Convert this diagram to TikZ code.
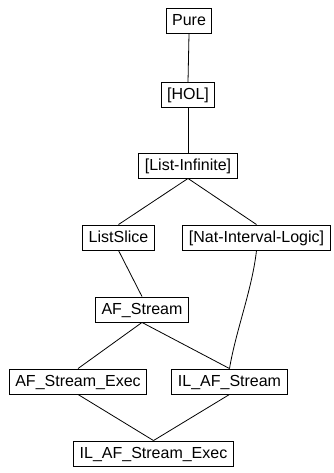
\documentclass[tikz,border=0pt]{standalone}
\usepackage{fontspec}
\setmainfont{Liberation Sans}
\begin{document}
\begin{tikzpicture}[x=1pt,y=-1pt,
  box/.style={draw=black,line width=0.9pt,font=\fontsize{16}{18}\selectfont,inner xsep=6pt,inner ysep=0pt,minimum height=25pt,text height=12pt,text depth=3pt},
  edge/.style={draw=black,line width=0.8pt}]
\useasboundingbox (0,0) rectangle (333,473);
\node[box] (pure) at (189,21) {Pure};
\node[box] (hol) at (188,95) {[HOL]};
\node[box] (li) at (188,165.5) {[List-Infinite]};
\node[box] (ls) at (118.5,237.5) {ListSlice};
\node[box] (nat) at (256.5,237.5) {[Nat-Interval-Logic]};
\node[box] (afs) at (142,309.5) {AF\_Stream};
\node[box] (afse) at (78,381.5) {AF\_Stream\_Exec};
\node[box] (ilafs) at (229.5,381.5) {IL\_AF\_Stream};
\node[box] (ilafse) at (153.5,453.5) {IL\_AF\_Stream\_Exec};
\draw[edge] (pure.south) -- (hol.north);
\draw[edge] (hol.south) -- (li.north);
\draw[edge] (li.south) -- (ls.north);
\draw[edge] (li.south) -- (nat.north);
\draw[edge] (ls.south) -- (afs.north);
\draw[edge] (nat.south) .. controls (252,290) and (236,330) .. (ilafs.north);
\draw[edge] (afs.south) -- (afse.north);
\draw[edge] (afs.south) -- (ilafs.north);
\draw[edge] (afse.south) -- (ilafse.north);
\draw[edge] (ilafs.south) -- (ilafse.north);
\end{tikzpicture}
\end{document}
